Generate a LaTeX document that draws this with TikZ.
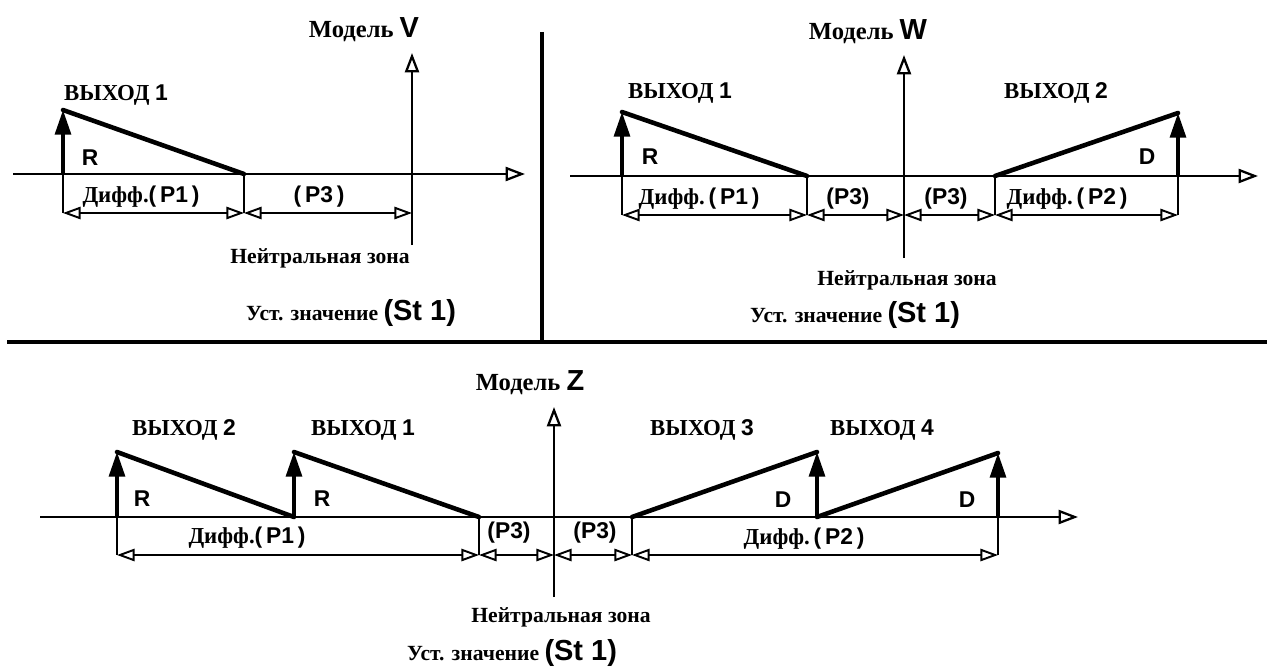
\documentclass[tikz,border=0pt]{standalone}
\usepackage{fontspec}
\setmainfont{Liberation Serif}
\newfontfamily\lsans{Liberation Sans}
\usetikzlibrary{arrows.meta}
\newcommand{\Sf}[1]{{\lsans\bfseries #1}}
\newcommand{\BigSf}[1]{{\lsans\bfseries\fontsize{16.5}{18}\selectfont #1}}

\begin{document}
\begin{tikzpicture}[x=0.02cm,y=-0.02cm,
  axisln/.style={line width=1.5pt,-{Triangle[open,length=11pt,width=8pt,line width=1.3pt]}},
  outp/.style={line width=2pt,-{Triangle[length=14pt,width=9pt]}},
  ramp/.style={line width=2.6pt,line cap=round,line join=round},
  tickln/.style={line width=1.2pt},
  dim/.style={line width=1.1pt,{Triangle[open,length=10pt,width=7pt,line width=1.1pt]}-{Triangle[open,length=10pt,width=7pt,line width=1.1pt]}},
  frameln/.style={line width=2.4pt},
  cyr/.style={font=\fontsize{13}{15}\selectfont\bfseries,inner sep=0pt},
  small/.style={font=\fontsize{12.3}{14}\selectfont\bfseries,inner sep=0pt},
  ttl/.style={font=\fontsize{14}{16}\selectfont\bfseries,inner sep=0pt},
  lbl/.style={font=\fontsize{13}{15}\selectfont\lsans\bfseries,inner sep=0pt},
  plbl/.style={font=\fontsize{13}{15}\selectfont\lsans\bfseries,inner sep=0pt}]
\useasboundingbox (0,0) rectangle (1267,669);

% frame lines between the three models
\coordinate (F-t) at (542,32);
\coordinate (F-b) at (542,342);
\coordinate (F-l) at (7,342);
\coordinate (F-r) at (1267,342);
\draw[frameln] (F-t) -- (F-b);
\draw[frameln] (F-l) -- (F-r);

% ================= Model V =================
\coordinate (V-d)  at (0,213);
\coordinate (V-x0) at (13,174);
\coordinate (V-x1) at (525,174);
\coordinate (V-y0) at (412,245);
\coordinate (V-y1) at (412,53);
\coordinate (V-r)  at (63,174);
\coordinate (V-rt) at (63,110);
\coordinate (V-rf) at (244,174);
\draw[axisln] (V-x0) -- (V-x1);
\draw[axisln] (V-y0) -- (V-y1);
\draw[outp] (V-r) -- (V-rt);
\draw[ramp] (V-rt) -- (V-rf);
\draw[tickln] (V-r) -- (V-r |- V-d);
\draw[tickln] (V-rf) -- (V-rf |- V-d);
\draw[dim] (V-r |- V-d) -- (V-rf |- V-d);
\draw[dim] (V-rf |- V-d) -- (V-y0 |- V-d);

\node[ttl] (V-title) at (364,30) {Модель \BigSf{V}};
\node[cyr] (V-out1) at (116,95) {ВЫХОД \Sf{1}};
\node[lbl] (V-R) at (90,158) {R};
\node[cyr] (V-p1) at (141,197) {Дифф.\Sf{(\,P1\,)}};
\node[plbl] (V-p3) at (319,197) {(\,P3\,)};
\node[small] (V-nz) at (320,258) {Нейтральная зона};
\node[small] (V-st) at (351,313) {Уст. значение \BigSf{(St 1)}};

% ================= Model W =================
\coordinate (W-d)  at (0,215);
\coordinate (W-x0) at (570,176);
\coordinate (W-x1) at (1258,176);
\coordinate (W-y0) at (904,258);
\coordinate (W-y1) at (904,55);
\coordinate (W-r)  at (622,176);
\coordinate (W-rt) at (622,112);
\coordinate (W-rf) at (807,176);
\coordinate (W-df) at (995,176);
\coordinate (W-dx) at (1178,176);
\coordinate (W-dt) at (1178,113);
\draw[axisln] (W-x0) -- (W-x1);
\draw[axisln] (W-y0) -- (W-y1);
\draw[outp] (W-r) -- (W-rt);
\draw[ramp] (W-rt) -- (W-rf);
\draw[outp] (W-dx) -- (W-dt);
\draw[ramp] (W-df) -- (W-dt);
\draw[tickln] (W-r) -- (W-r |- W-d);
\draw[tickln] (W-rf) -- (W-rf |- W-d);
\draw[tickln] (W-df) -- (W-df |- W-d);
\draw[tickln] (W-dx) -- (W-dx |- W-d);
\draw[dim] (W-r |- W-d) -- (W-rf |- W-d);
\draw[dim] (W-rf |- W-d) -- (W-y0 |- W-d);
\draw[dim] (W-y0 |- W-d) -- (W-df |- W-d);
\draw[dim] (W-df |- W-d) -- (W-dx |- W-d);

\node[ttl] (W-title) at (868,32) {Модель \BigSf{W}};
\node[cyr] (W-out1) at (680,93) {ВЫХОД \Sf{1}};
\node[cyr] (W-out2) at (1056,93) {ВЫХОД \Sf{2}};
\node[lbl] (W-R) at (650,157) {R};
\node[lbl] (W-D) at (1147,157) {D};
\node[cyr] (W-p1) at (699,199) {Дифф.\,\Sf{(\,P1\,)}};
\node[plbl] (W-p3a) at (848,199) {(P3)};
\node[plbl] (W-p3b) at (946,199) {(P3)};
\node[cyr] (W-p2) at (1067,199) {Дифф.\,\Sf{(\,P2\,)}};
\node[small] (W-nz) at (907,280) {Нейтральная зона};
\node[small] (W-st) at (855,315) {Уст. значение \BigSf{(St 1)}};

% ================= Model Z =================
\coordinate (Z-d)   at (0,555);
\coordinate (Z-x0)  at (40,517);
\coordinate (Z-x1)  at (1078,517);
\coordinate (Z-y0)  at (554,597);
\coordinate (Z-y1)  at (554,407);
\coordinate (Z-r1)  at (117,517);
\coordinate (Z-r1t) at (117,452);
\coordinate (Z-r2)  at (294,517);
\coordinate (Z-r2t) at (294,452);
\coordinate (Z-rf)  at (479,517);
\coordinate (Z-df)  at (632,517);
\coordinate (Z-d1)  at (817,517);
\coordinate (Z-d1t) at (817,452);
\coordinate (Z-d2)  at (998,517);
\coordinate (Z-d2t) at (998,453);
\draw[axisln] (Z-x0) -- (Z-x1);
\draw[axisln] (Z-y0) -- (Z-y1);
\draw[outp] (Z-r1) -- (Z-r1t);
\draw[ramp] (Z-r1t) -- (Z-r2);
\draw[outp] (Z-r2) -- (Z-r2t);
\draw[ramp] (Z-r2t) -- (Z-rf);
\draw[outp] (Z-d1) -- (Z-d1t);
\draw[ramp] (Z-df) -- (Z-d1t);
\draw[outp] (Z-d2) -- (Z-d2t);
\draw[ramp] (Z-d1) -- (Z-d2t);
\draw[tickln] (Z-r1) -- (Z-r1 |- Z-d);
\draw[tickln] (Z-rf) -- (Z-rf |- Z-d);
\draw[tickln] (Z-df) -- (Z-df |- Z-d);
\draw[tickln] (Z-d2) -- (Z-d2 |- Z-d);
\draw[dim] (Z-r1 |- Z-d) -- (Z-rf |- Z-d);
\draw[dim] (Z-rf |- Z-d) -- (Z-y0 |- Z-d);
\draw[dim] (Z-y0 |- Z-d) -- (Z-df |- Z-d);
\draw[dim] (Z-df |- Z-d) -- (Z-d2 |- Z-d);

\node[ttl] (Z-title) at (530,383) {Модель \BigSf{Z}};
\node[cyr] (Z-out2) at (184,430) {ВЫХОД \Sf{2}};
\node[cyr] (Z-out1) at (363,430) {ВЫХОД \Sf{1}};
\node[cyr] (Z-out3) at (702,430) {ВЫХОД \Sf{3}};
\node[cyr] (Z-out4) at (882,430) {ВЫХОД \Sf{4}};
\node[lbl] (Z-R1) at (142,499) {R};
\node[lbl] (Z-R2) at (322,499) {R};
\node[lbl] (Z-D1) at (783,500) {D};
\node[lbl] (Z-D2) at (967,500) {D};
\node[cyr] (Z-p1) at (247,538) {Дифф.\Sf{(\,P1\,)}};
\node[plbl] (Z-p3a) at (509,533) {(P3)};
\node[plbl] (Z-p3b) at (595,533) {(P3)};
\node[cyr] (Z-p2) at (804,539) {Дифф.\,\Sf{(\,P2\,)}};
\node[small] (Z-nz) at (561,617) {Нейтральная зона};
\node[small] (Z-st) at (512,653) {Уст. значение \BigSf{(St 1)}};
\end{tikzpicture}
\end{document}
